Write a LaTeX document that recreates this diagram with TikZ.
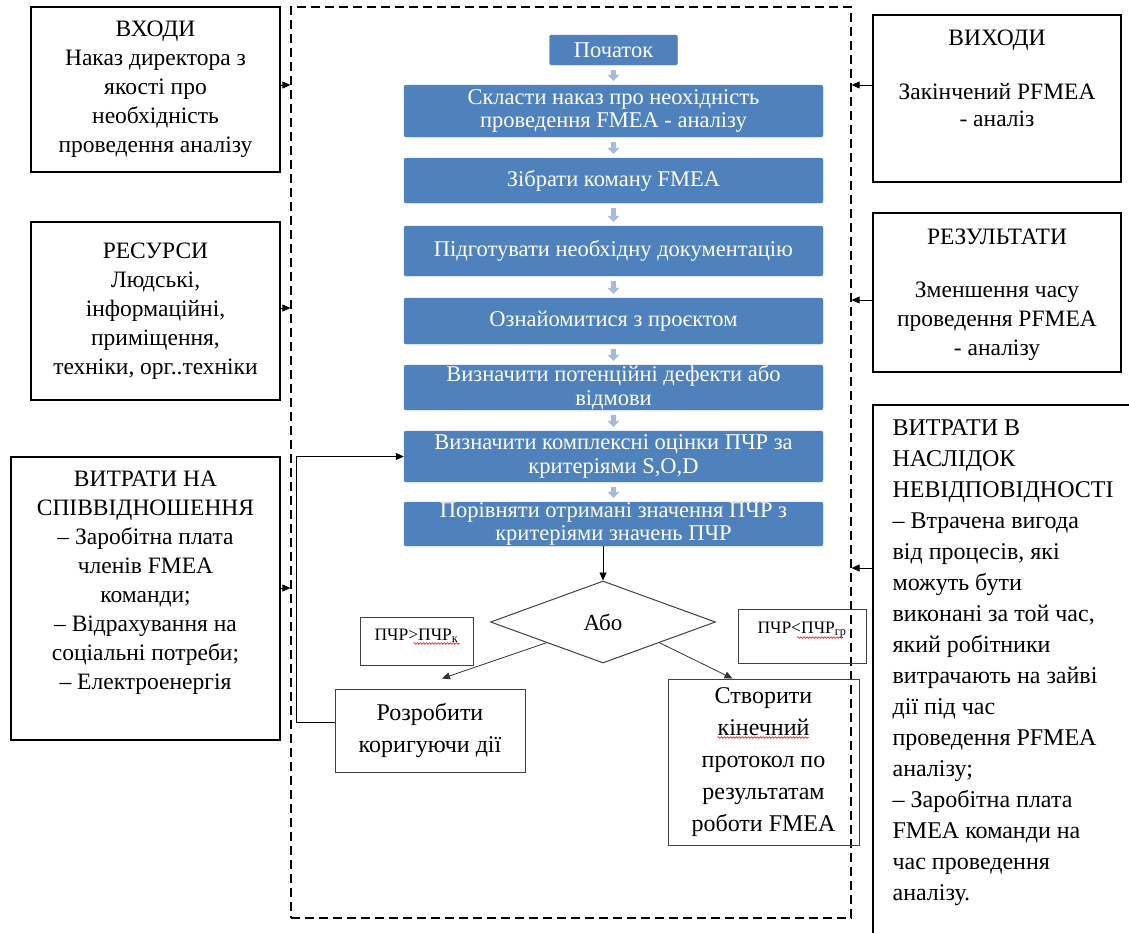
\documentclass[tikz,border=0pt]{standalone}
\usepackage{fontspec}
\setmainfont{Liberation Serif}
\usetikzlibrary{arrows.meta,shapes.geometric,calc,decorations.pathmorphing}
\definecolor{blueA}{HTML}{4F81BD}
\definecolor{chevc}{HTML}{A7BADC}
\newcommand{\sidefnt}{\fontsize{23.5}{29}\selectfont}
\newcommand{\longfnt}{\fontsize{24}{31}\selectfont}
\newcommand{\bluefnt}{\fontsize{22.5}{23.5}\selectfont}
\newcommand{\flowfnt}{\fontsize{24}{32}\selectfont}
\newcommand{\smallfnt}{\fontsize{17.5}{20}\selectfont}
\begin{document}
\begin{tikzpicture}[x=1pt,y=-1pt,
 sidebox/.style={draw, line width=1.2pt, align=center, font=\sidefnt, inner sep=0pt},
 bluebox/.style={fill=blueA, draw=blueA, rounded corners=2pt, text=white, align=center, font=\bluefnt, minimum width=419pt, inner sep=0pt},
 flowbox/.style={draw=black!75, line width=1pt, align=center, inner sep=0pt, font=\flowfnt},
 arr/.style={-{Triangle[length=8pt,width=7pt]}, line width=0.8pt},
 chev/.style={draw=chevc, line width=5pt, -{Triangle[length=6pt,width=12pt]}, shorten <=5pt, shorten >=4pt},
 spell/.style={draw=red, line width=0.6pt, decorate, decoration={snake, segment length=3pt, amplitude=0.8pt}},
]
\useasboundingbox (0,0) rectangle (1129,932);

% process frame
\node[draw, dash pattern=on 9pt off 5pt, line width=1.2pt, minimum width=560pt, minimum height=911pt, inner sep=0pt] (proc) at (571,462.5) {};

% left boxes
\node[sidebox, minimum width=249pt, minimum height=165pt] (inA) at (155.5,89.5)
 {ВХОДИ\\Наказ директора з\\якості про\\необхідність\\проведення аналізу};
\node[sidebox, minimum width=249pt, minimum height=178pt] (inR) at (155.5,311)
 {РЕСУРСИ\\Людські,\\інформаційні,\\приміщення,\\техніки, орг..техніки};
\node[sidebox, minimum width=269pt, minimum height=283pt,
 label={[anchor=north, align=center, font=\sidefnt, inner sep=0pt, yshift=-14pt]north:{ВИТРАТИ НА\\СПІВВІДНОШЕННЯ\\– Заробітна плата\\членів FMEA\\команди;\\– Відрахування на\\соціальні потреби;\\– Електроенергія}}] (inC) at (145.5,598.5) {};

% right boxes
\node[sidebox, minimum width=248pt, minimum height=167pt,
 label={[anchor=north, align=center, font=\fontsize{23.5}{27}\selectfont, inner sep=0pt, yshift=-15pt]north:{ВИХОДИ\\[27pt]Закінчений PFMEA\\- аналіз}}] (outV) at (997,98.5) {};
\node[sidebox, minimum width=248pt, minimum height=159pt,
 label={[anchor=north, align=center, font=\fontsize{23.5}{29}\selectfont, inner sep=0pt, yshift=-16pt]north:{РЕЗУЛЬТАТИ\\[24pt]Зменшення часу\\проведення PFMEA\\- аналізу}}] (outR) at (997,292.5) {};
\node[sidebox, minimum width=277pt, minimum height=545pt,
 label={[anchor=north west, align=left, font=\longfnt, inner sep=0pt, xshift=20pt, yshift=-15pt]north west:{ВИТРАТИ В\\НАСЛІДОК\\НЕВІДПОВІДНОСТІ\\– Втрачена вигода\\від процесів, які\\можуть бути\\виконані за той час,\\який робітники\\витрачають на зайві\\дії під час\\проведення PFMEA\\аналізу;\\– Заробітна плата\\FMEA команди на\\час проведення\\аналізу.}}] (outL) at (1011.5,677.5) {};

% blue steps
\node[bluebox, minimum width=128pt, minimum height=30pt] (b1) at (613.5,50) {Початок};
\node[bluebox, minimum height=52pt] (b2) at (613.5,111) {Скласти наказ про неохідність\\проведення FMEA - аналізу};
\node[bluebox, minimum height=45pt] (b3) at (613.5,180.5) {Зібрати комaну FMEA};
\node[bluebox, minimum height=50pt] (b4) at (613.5,251) {Підготувати необхідну документацію};
\node[bluebox, minimum height=46pt] (b5) at (613.5,321) {Ознайомитися з проєктом};
\node[bluebox, minimum height=45pt] (b6) at (613.5,387.5) {Визначити потенційні дефекти або\\відмови};
\node[bluebox, minimum height=51pt] (b7) at (613.5,456.5) {Визначити комплексні оцінки ПЧР за\\критеріями S,O,D};
\node[bluebox, minimum height=44pt] (b8) at (613.5,524) {Порівняти отримані значення ПЧР з\\критеріями значень ПЧР};

\draw[chev] (b1) -- (b2);
\draw[chev] (b2) -- (b3);
\draw[chev] (b3) -- (b4);
\draw[chev] (b4) -- (b5);
\draw[chev] (b5) -- (b6);
\draw[chev] (b6) -- (b7);
\draw[chev] (b7) -- (b8);

% decision
\node[flowbox, shape=diamond, minimum width=225pt, minimum height=82pt, font=\fontsize{23}{26}\selectfont] (d) at (603,622) {Або};
\node[flowbox, minimum width=113pt, minimum height=48pt,
 label={[anchor=north, font=\smallfnt, inner sep=0pt, yshift=-12pt]north:{ПЧР>ПЧР\textsubscript{к}}}] (k1) at (416.5,641) {};
\node[flowbox, minimum width=128pt, minimum height=54pt,
 label={[anchor=north, font=\smallfnt, inner sep=0pt, yshift=-13pt]north:{ПЧР<ПЧР\textsubscript{гр}}}] (k2) at (802,636) {};
\node[flowbox, minimum width=190pt, minimum height=83pt] (r1) at (430,730.5) {Розробити\\коригуючи дії};
\node[flowbox, minimum width=191pt, minimum height=166pt] (c1) at (763.5,762) {Створити\\кінечний\\протокол по\\результатам\\роботи FMEA};

% spell-check marks
\draw[spell] ($(k1.north)+(-3,27)$) -- ($(k1.north)+(43,27)$);
\draw[spell] ($(k2.north)+(-5,29)$) -- ($(k2.north)+(41,29)$);
\draw[spell] ($(c1.north)+(-46,59)$) -- ($(c1.north)+(45,59)$);

\draw[arr] (b8.south -| d.north) -- (d.north);
\draw[arr, draw=black!80] (d.south west) -- ([xshift=12pt]c1.north -| r1.north);
\draw[arr, draw=black!80] (d.south east) -- ([xshift=-31pt]c1.north);
\draw[arr] ([yshift=8pt]r1.west) -- ++(-38,0) |- (b7.west);

% side connectors
\draw[arr] (inA.east |- 0,85) -- (proc.west |- 0,85);
\draw[arr] (inR.east |- 0,308) -- (proc.west |- 0,308);
\draw[arr] (inC.east |- 0,588) -- (proc.west |- 0,588);
\draw[arr] (outV.west |- 0,85) -- (proc.east |- 0,85);
\draw[arr] (outR.west |- 0,300) -- (proc.east |- 0,300);
\draw[arr] (outL.west |- 0,568) -- (proc.east |- 0,568);
\end{tikzpicture}
\end{document}
